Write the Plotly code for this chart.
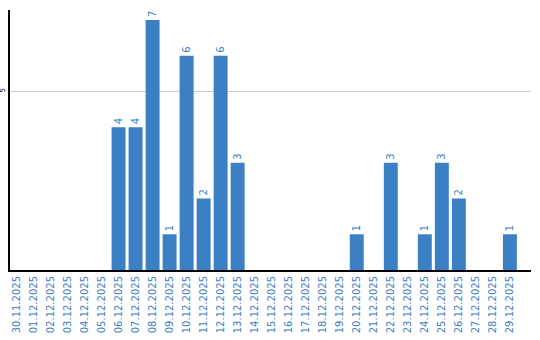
import plotly.graph_objects as go

dates = ["30.11.2025", "01.12.2025", "02.12.2025", "03.12.2025", "04.12.2025", "05.12.2025",
         "06.12.2025", "07.12.2025", "08.12.2025", "09.12.2025", "10.12.2025", "11.12.2025",
         "12.12.2025", "13.12.2025", "14.12.2025", "15.12.2025", "16.12.2025", "17.12.2025",
         "18.12.2025", "19.12.2025", "20.12.2025", "21.12.2025", "22.12.2025", "23.12.2025",
         "24.12.2025", "25.12.2025", "26.12.2025", "27.12.2025", "28.12.2025", "29.12.2025"]
counts = [0, 0, 0, 0, 0, 0, 4, 4, 7, 1, 6, 2, 6, 3, 0, 0, 0, 0, 0, 0,
          1, 0, 3, 0, 1, 3, 2, 0, 0, 1]
ytick_vals = [5]

blue = "#3b7fc4"
labels = [str(v) if v > 0 else "" for v in counts]

fig = go.Figure(go.Bar(
    x=dates, y=counts, marker_color=blue, marker_line_width=0,
    text=labels, textposition="outside", textangle=-90,
    textfont=dict(color=blue, size=10, family="DejaVu Sans"),
    cliponaxis=False,
))
fig.update_layout(
    width=540, height=340, margin=dict(l=10, r=9, t=10, b=70),
    paper_bgcolor="white", plot_bgcolor="white", showlegend=False,
    bargap=0.18,
    xaxis=dict(type="category", range=[-0.38, 30.24], tickangle=-90, showline=True,
               linecolor="black", linewidth=2, showgrid=False, ticks="", automargin=False,
               tickfont=dict(color=blue, size=10, family="DejaVu Sans")),
    yaxis=dict(range=[0, 7.28], tickvals=ytick_vals, showgrid=True, gridcolor="#cccccc",
               showline=True, linecolor="black", linewidth=2, zeroline=False,
               ticks="", tickangle=-90, automargin=False,
               tickfont=dict(color="black", size=7, family="DejaVu Sans")),
)
fig.write_html("out.html")
